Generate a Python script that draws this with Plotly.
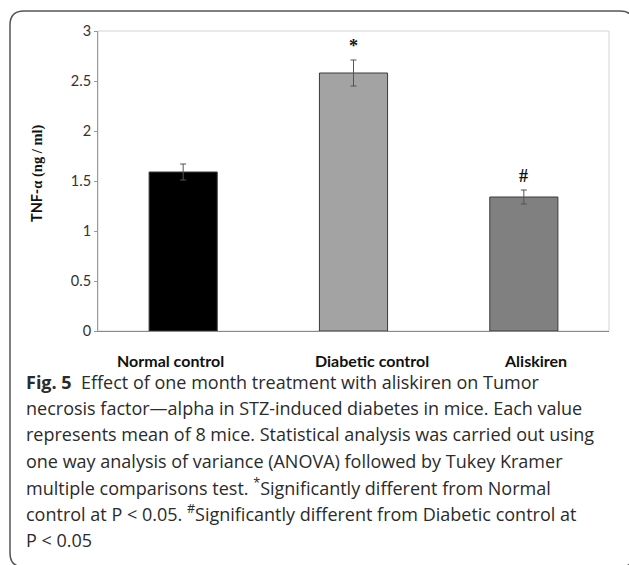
import plotly.graph_objects as go

# ---- data ----
categories = ["Normal control", "Diabetic control", "Aliskiren"]
values = [1.59, 2.58, 1.34]
errors = [0.08, 0.13, 0.07]
bar_colors = ["#000000", "#a3a3a3", "#808080"]
sig_marks = ["", "*", "#"]
y_ticks = [0, 0.5, 1, 1.5, 2, 2.5, 3]
y_title = "TNF-"
y_title_unit = "α (ng / ml)"
caption_lines = [
    "<b>Fig. 5</b>  Effect of one month treatment with aliskiren on Tumor",
    "necrosis factor—alpha in STZ-induced diabetes in mice. Each value",
    "represents mean of 8 mice. Statistical analysis was carried out using",
    "one way analysis of variance (ANOVA) followed by Tukey Kramer",
    "multiple comparisons test. <sup>*</sup>Significantly different from Normal",
    "control at P < 0.05. <sup>#</sup>Significantly different from Diabetic control at",
    "P < 0.05",
]

W, H = 629, 565
L, R, T, B = 98, 20, 31, 234
PW, PH = W - L - R, H - T - B


def px_x(px):
    return (px - L) / PW


def px_y(py):
    return (H - B - py) / PH


fig = go.Figure()
fig.add_trace(go.Bar(
    x=categories, y=values,
    marker=dict(color=bar_colors, line=dict(color="#3a3a3a", width=1)),
    error_y=dict(type="data", array=errors, color="#555555", thickness=1, width=3),
    hoverinfo="skip",
))

annotations = []
for c, v, e, m in zip(categories, values, errors, sig_marks):
    if m:
        annotations.append(dict(
            x=c, y=v + e + 0.145, xref="x", yref="y", text=f"<b>{m}</b>",
            showarrow=False, font=dict(family="Liberation Serif", size=18, color="#111"),
            xanchor="center", yanchor="middle"))

# category labels (slightly offset from bar centres, as in the original figure)
label_shifts = [-13, 18, 12]
for c, dx in zip(categories, label_shifts):
    annotations.append(dict(
        x=c, y=px_y(360), xref="x", yref="paper", text=f"<b>{c}</b>",
        xshift=dx, showarrow=False, font=dict(family="Lato", size=16, color="#111"),
        xanchor="center", yanchor="middle"))

annotations.append(dict(
    x=px_x(37), y=px_y(173), xref="paper", yref="paper", textangle=-90,
    text=f"<b>{y_title}<span style='font-family:Liberation Serif'>{y_title_unit}</span></b>",
    showarrow=False, font=dict(family="Lato", size=14.5, color="#111"),
    xanchor="center", yanchor="middle"))

line_centers = [382, 408, 434, 461, 487, 513, 540]
for txt, cy in zip(caption_lines, line_centers):
    annotations.append(dict(
        x=px_x(24), y=px_y(cy), xref="paper", yref="paper", text=txt,
        showarrow=False, font=dict(family="Open Sans", size=18, color="#2b2b2b"),
        xanchor="left", yanchor="middle"))

# rounded outer frame
x0, x1, y0, y1, r = 10, 634, 11, 567, 14
path = (f"M {px_x(x0)},{px_y(y0 + r)} "
        f"Q {px_x(x0)},{px_y(y0)} {px_x(x0 + r)},{px_y(y0)} "
        f"L {px_x(x1 - r)},{px_y(y0)} "
        f"Q {px_x(x1)},{px_y(y0)} {px_x(x1)},{px_y(y0 + r)} "
        f"L {px_x(x1)},{px_y(y1 - r)} "
        f"Q {px_x(x1)},{px_y(y1)} {px_x(x1 - r)},{px_y(y1)} "
        f"L {px_x(x0 + r)},{px_y(y1)} "
        f"Q {px_x(x0)},{px_y(y1)} {px_x(x0)},{px_y(y1 - r)} Z")
shapes = [
    dict(type="path", path=path, xref="paper", yref="paper",
         line=dict(color="#555555", width=1.5), layer="below"),
    dict(type="rect", x0=0, x1=1, y0=0, y1=1, xref="paper", yref="paper",
         line=dict(color="#d4d4d4", width=1), layer="below"),
]

fig.update_layout(
    width=W, height=H, margin=dict(l=L, r=R, t=T, b=B),
    paper_bgcolor="white", plot_bgcolor="white", showlegend=False,
    bargap=0.6, annotations=annotations, shapes=shapes,
    xaxis=dict(showline=True, linecolor="#8a8a8a", linewidth=1, showgrid=False,
               showticklabels=False, ticks="", fixedrange=True),
    yaxis=dict(range=[0, 3], tickvals=y_ticks, showline=True, linecolor="#999999",
               linewidth=1, showgrid=False, zeroline=False, ticks="outside",
               ticklen=3, tickcolor="#999999", fixedrange=True,
               tickfont=dict(family="Lato", size=14.5, color="#333")),
)

fig.write_html("out.html", config={"displayModeBar": False},
               post_script="document.body.style.margin='0';document.body.style.overflow='hidden';")
